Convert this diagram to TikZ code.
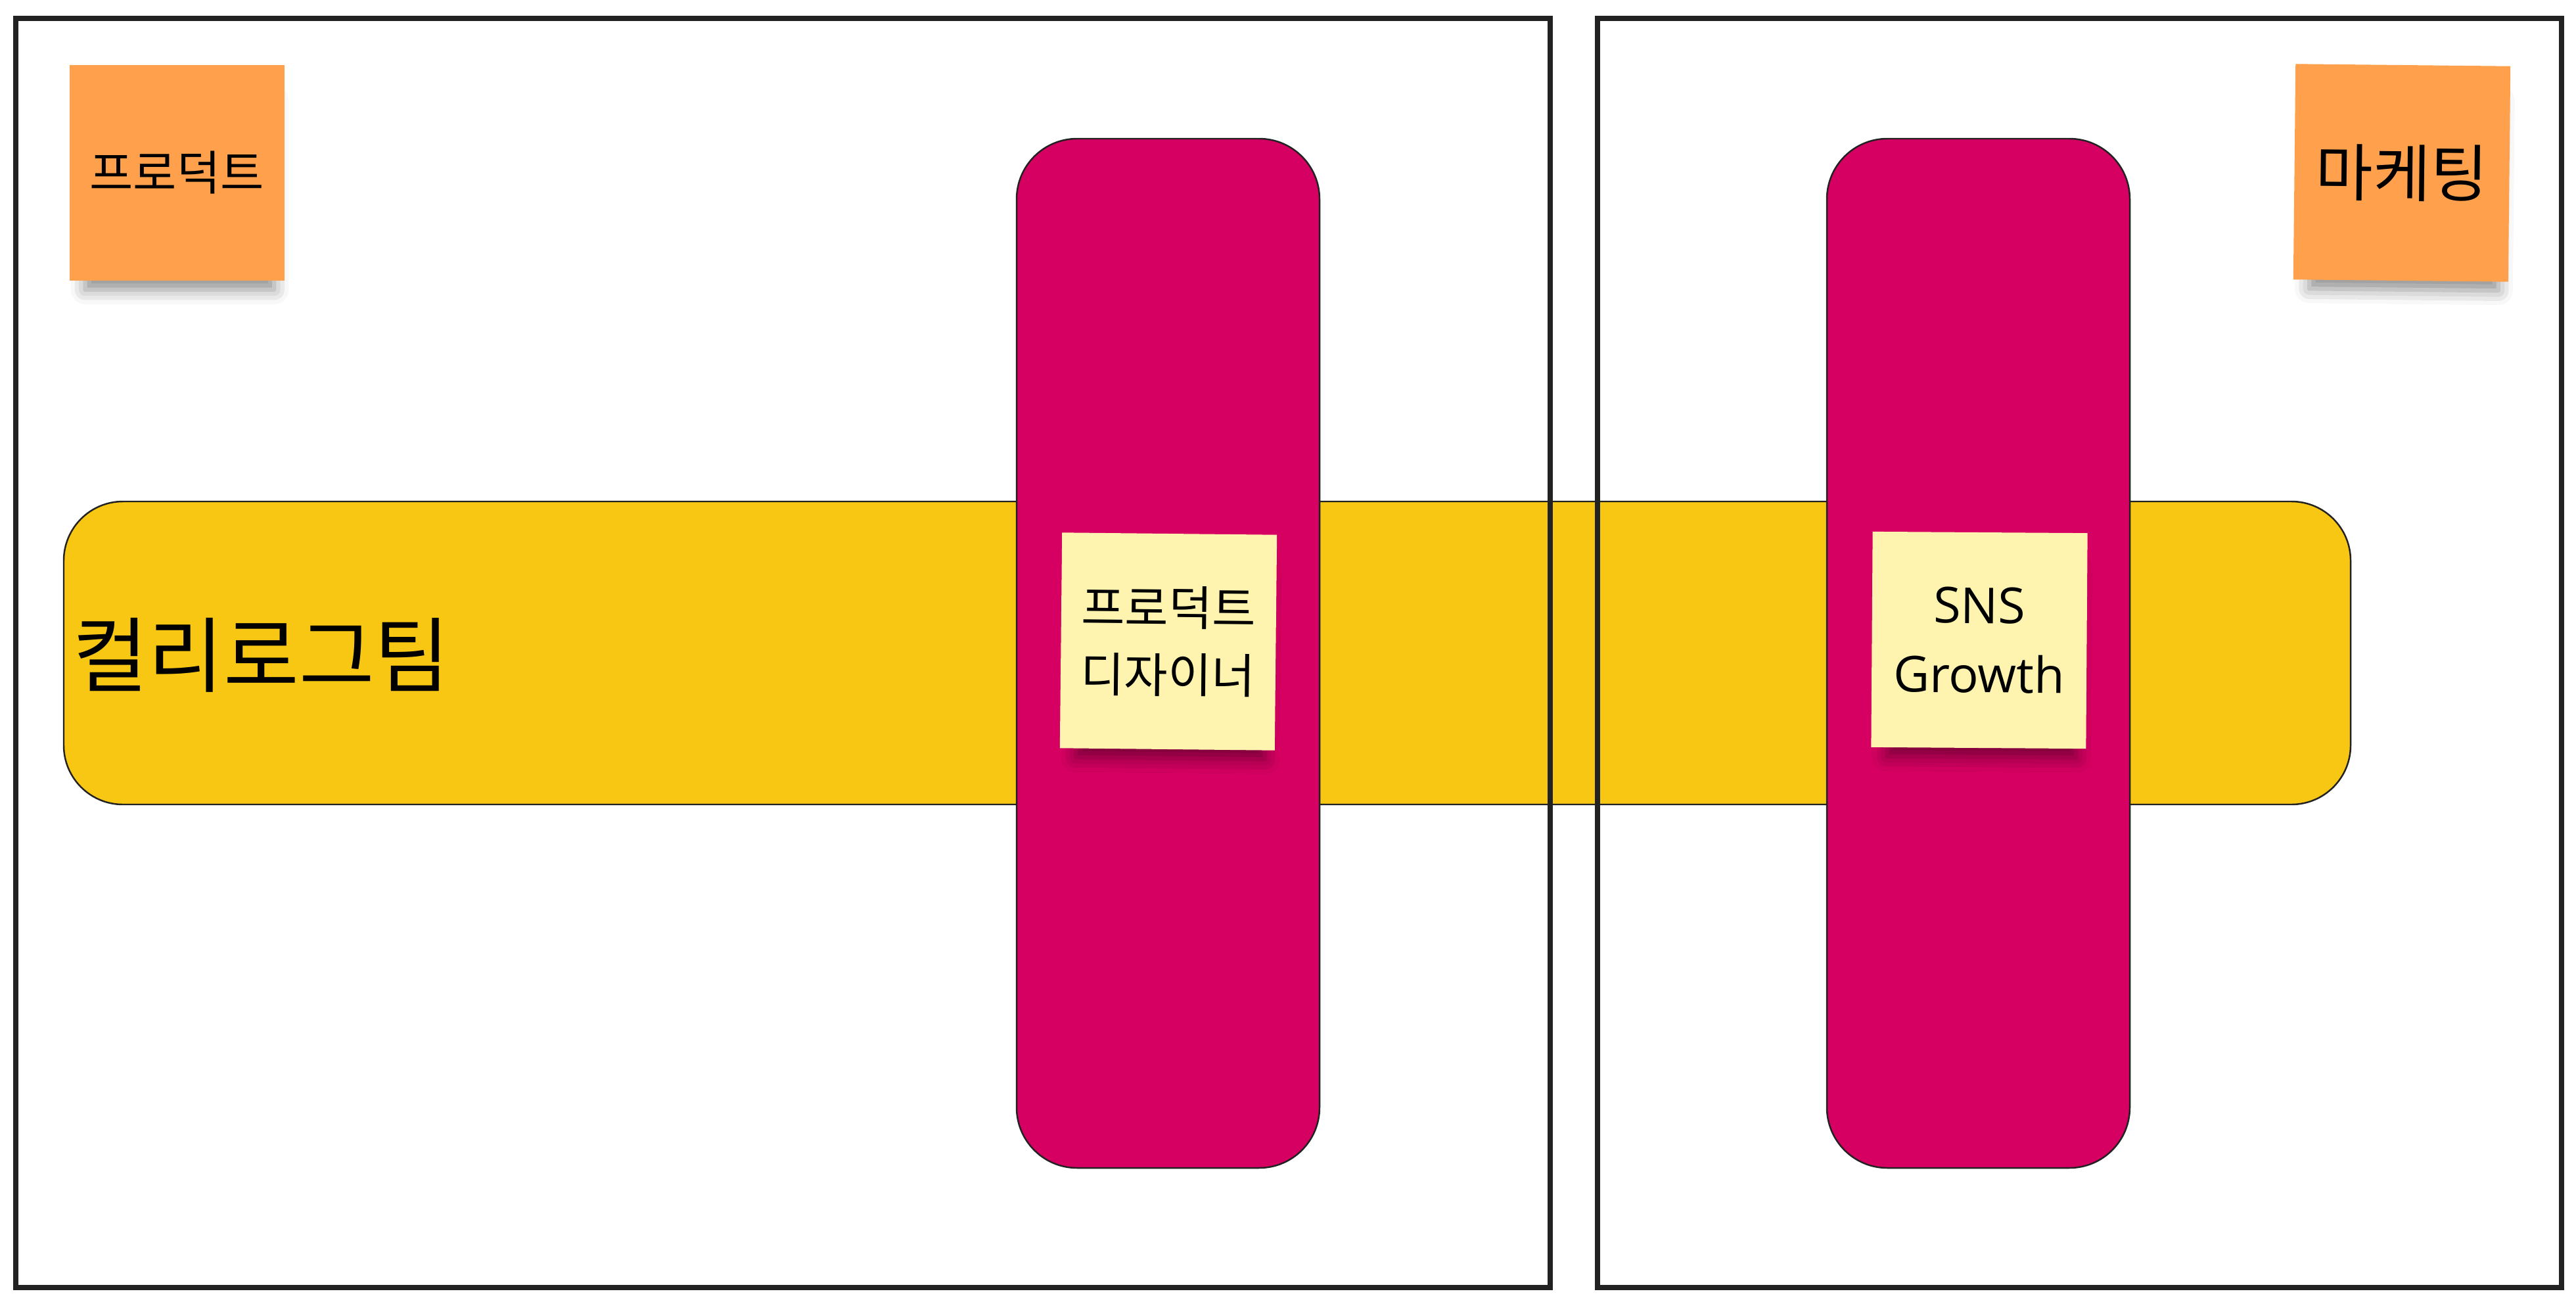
\documentclass[tikz,border=0pt]{standalone}
\usepackage{fontspec}
\setmainfont{Open Sans}
\newfontfamily\kr{Noto Sans CJK KR}
\usetikzlibrary{shadows.blur}

\definecolor{frameline}{HTML}{222222}
\definecolor{bandyellow}{RGB}{248,199,20}
\definecolor{barmagenta}{RGB}{214,0,98}
\definecolor{stickyorange}{RGB}{255,161,76}
\definecolor{stickypale}{RGB}{254,244,176}

\tikzset{
  teamframe/.style={draw=frameline, line width=0.08cm},
  teamband/.style={draw=frameline, line width=0.7pt, rounded corners=0.9cm},
  sticky/.style={minimum width=3.27cm, minimum height=3.28cm, inner sep=0pt, align=center,
    blur shadow={shadow xshift=0.05cm, shadow yshift=-0.38cm, shadow scale=0.88,
      shadow blur radius=0.25cm, shadow opacity=45}},
  krsmall/.style={font=\kr\fontsize{20.5pt}{29pt}\selectfont},
}

\begin{document}
\begin{tikzpicture}
\useasboundingbox (0,0) rectangle (39.2,-19.8);

  % yellow band across both frames
  \draw[teamband, fill=bandyellow] (0.97,-7.63) rectangle (35.77,-12.24);

  % the two frames
  \draw[teamframe] (0.24,-0.28) rectangle (23.59,-19.59);
  \draw[teamframe] (24.31,-0.28) rectangle (38.98,-19.59);

  % magenta bars
  \foreach \x in {15.47,27.80}
    \draw[teamband, rounded corners=0.92cm, fill=barmagenta] (\x,-2.11) rectangle ++(4.61,-15.66);

  % stickies
  \node[sticky, fill=stickyorange, krsmall] (product) at (2.69,-2.63) {프로덕트};
  \node[sticky, fill=stickyorange, rotate=-0.6, font=\kr\fontsize{27pt}{32pt}\selectfont] (marketing) at (36.55,-2.63) {마케팅};
  \node[sticky, fill=stickypale, rotate=-0.6, krsmall] (designer) at (17.78,-9.76) {프로덕트\\디자이너};
  \node[sticky, fill=stickypale, rotate=-0.4, font=\fontsize{21.5pt}{30pt}\selectfont] (sns) at (30.12,-9.74) {SNS\\Growth};

  \node[anchor=west, inner sep=0pt, font=\kr\fontsize{35.5pt}{40pt}\selectfont] (kurly) at (1.1,-9.97) {컬리로그팀};
\end{tikzpicture}
\end{document}
